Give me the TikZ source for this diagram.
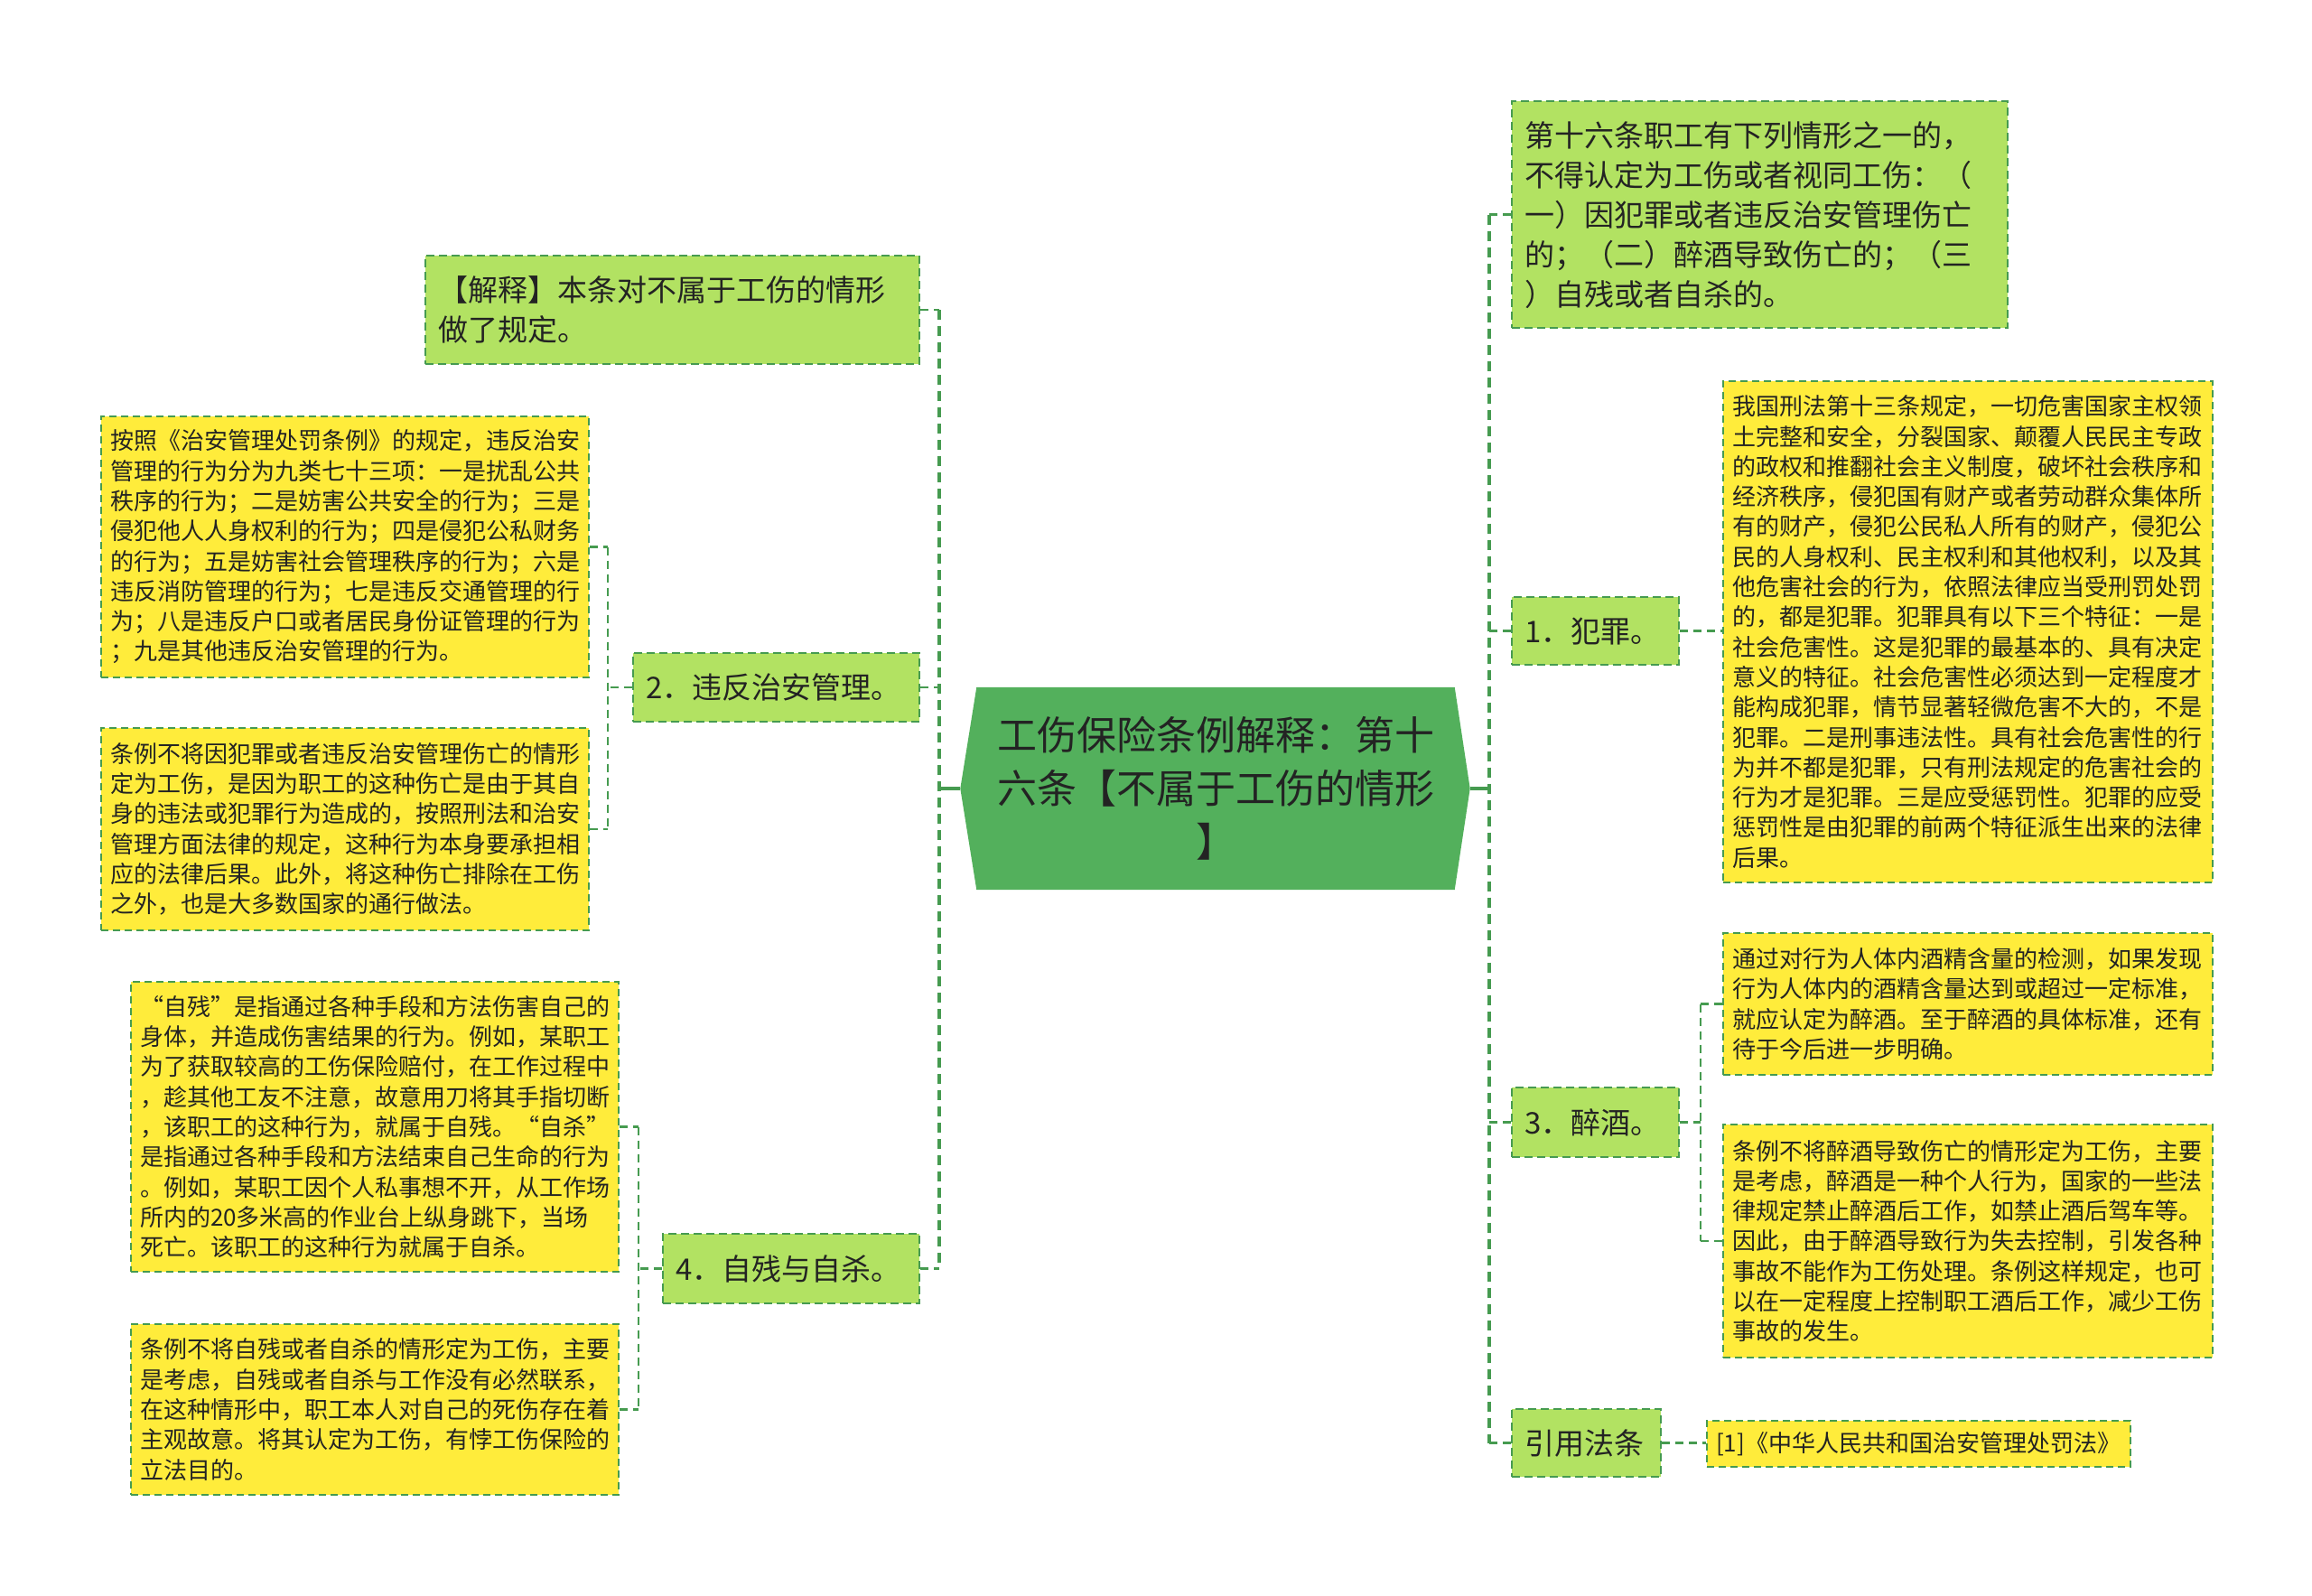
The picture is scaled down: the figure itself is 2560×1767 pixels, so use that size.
\documentclass[tikz,border=0pt]{standalone}
\usepackage{fontspec}
\newfontfamily\cjk{Noto Sans CJK SC}
\usetikzlibrary{backgrounds}

\definecolor{rootgreen}{RGB}{83,176,92}
\definecolor{topicgreen}{RGB}{178,226,98}
\definecolor{leafyellow}{RGB}{255,236,59}
\definecolor{linkgreen}{RGB}{70,155,80}
\definecolor{inkgray}{RGB}{35,35,35}

\begin{document}
\begin{tikzpicture}[x=1pt,y=-1pt,
        topic/.style={draw=linkgreen, fill=topicgreen, line width=2.4pt, dash pattern=on 9pt off 5pt,
            anchor=north west, align=left, inner xsep=14pt, inner ysep=6pt, text=inkgray,
            font=\cjk\fontsize{33}{44}\selectfont},
        leaf/.style={draw=linkgreen, fill=leafyellow, line width=2pt, dash pattern=on 8pt off 5pt,
            anchor=north west, align=left, inner xsep=10pt, inner ysep=6pt, text=inkgray,
            font=\cjk\fontsize{26}{33.3}\selectfont},
        link/.style={linkgreen, line width=2.5pt, dash pattern=on 9pt off 6pt},
        bus/.style={linkgreen, line width=4pt, dash pattern=on 11pt off 7pt},
        stem/.style={linkgreen, line width=4pt}]
            \useasboundingbox (0,0) rectangle (2560,1767);

            \node[align=center, text width=500pt, minimum width=529pt, minimum height=224pt, inner sep=0pt,
                text=inkgray, font=\cjk\fontsize{44}{59}\selectfont] (root) at (1346,873)
                {工伤保险条例解释：第十\\六条【不属于工伤的情形\\】};
            \begin{scope}[on background layer]
                \fill[rootgreen] (root.north west) -- (root.north east) -- ([xshift=17pt]root.east) coordinate (rootE)
                    -- (root.south east) -- (root.south west) -- ([xshift=-18pt]root.west) coordinate (rootW) -- cycle;
            \end{scope}

            \node[topic, text width=519pt, minimum height=120pt] (jieshi) at (470,282)
                {【解释】本条对不属于工伤的情形\\做了规定。};
            \node[topic, text width=289pt, minimum height=76pt] (zhian) at (700,722) {2．违反治安管理。};
            \node[topic, text width=256pt, minimum height=77pt] (zican) at (733,1365) {4．自残与自杀。};

            \node[leaf, text width=520pt, minimum height=289pt] (zhianA) at (111,460)
                {按照《治安管理处罚条例》的规定，违反治安\\管理的行为分为九类七十三项：一是扰乱公共\\秩序的行为；二是妨害公共安全的行为；三是\\侵犯他人人身权利的行为；四是侵犯公私财务\\的行为；五是妨害社会管理秩序的行为；六是\\违反消防管理的行为；七是违反交通管理的行\\为；八是违反户口或者居民身份证管理的行为\\；九是其他违反治安管理的行为。};
            \node[leaf, text width=520pt, minimum height=224pt] (zhianB) at (111,805)
                {条例不将因犯罪或者违反治安管理伤亡的情形\\定为工伤，是因为职工的这种伤亡是由于其自\\身的违法或犯罪行为造成的，按照刑法和治安\\管理方面法律的规定，这种行为本身要承担相\\应的法律后果。此外，将这种伤亡排除在工伤\\之外，也是大多数国家的通行做法。};
            \node[leaf, text width=520pt, minimum height=321pt] (zicanA) at (144,1086)
                {“自残”是指通过各种手段和方法伤害自己的\\身体，并造成伤害结果的行为。例如，某职工\\为了获取较高的工伤保险赔付，在工作过程中\\，趁其他工友不注意，故意用刀将其手指切断\\，该职工的这种行为，就属于自残。“自杀”\\是指通过各种手段和方法结束自己生命的行为\\。例如，某职工因个人私事想不开，从工作场\\所内的20多米高的作业台上纵身跳下，当场\\死亡。该职工的这种行为就属于自杀。};
            \node[leaf, text width=520pt, minimum height=189pt] (zicanB) at (144,1465)
                {条例不将自残或者自杀的情形定为工伤，主要\\是考虑，自残或者自杀与工作没有必然联系，\\在这种情形中，职工本人对自己的死伤存在着\\主观故意。将其认定为工伤，有悖工伤保险的\\立法目的。};

            \node[topic, text width=521pt, minimum height=251pt] (tiaowen) at (1673,111)
                {第十六条职工有下列情形之一的，\\不得认定为工伤或者视同工伤：（\\一）因犯罪或者违反治安管理伤亡\\的；（二）醉酒导致伤亡的；（三\\）自残或者自杀的。};
            \node[topic, text width=157pt, minimum height=75pt] (fanzui) at (1673,660) {1．犯罪。};
            \node[topic, text width=157pt, minimum height=77pt] (zuijiu) at (1673,1203) {3．醉酒。};
            \node[topic, text width=137pt, minimum height=75pt] (yinyong) at (1673,1559) {引用法条};

            \node[leaf, text width=522pt, minimum height=555pt] (fanzuiA) at (1907,421)
                {我国刑法第十三条规定，一切危害国家主权领\\土完整和安全，分裂国家、颠覆人民民主专政\\的政权和推翻社会主义制度，破坏社会秩序和\\经济秩序，侵犯国有财产或者劳动群众集体所\\有的财产，侵犯公民私人所有的财产，侵犯公\\民的人身权利、民主权利和其他权利，以及其\\他危害社会的行为，依照法律应当受刑罚处罚\\的，都是犯罪。犯罪具有以下三个特征：一是\\社会危害性。这是犯罪的最基本的、具有决定\\意义的特征。社会危害性必须达到一定程度才\\能构成犯罪，情节显著轻微危害不大的，不是\\犯罪。二是刑事违法性。具有社会危害性的行\\为并不都是犯罪，只有刑法规定的危害社会的\\行为才是犯罪。三是应受惩罚性。犯罪的应受\\惩罚性是由犯罪的前两个特征派生出来的法律\\后果。};
            \node[leaf, text width=522pt, minimum height=157pt] (zuijiuA) at (1907,1032)
                {通过对行为人体内酒精含量的检测，如果发现\\行为人体内的酒精含量达到或超过一定标准，\\就应认定为醉酒。至于醉酒的具体标准，还有\\待于今后进一步明确。};
            \node[leaf, text width=522pt, minimum height=258pt] (zuijiuB) at (1907,1244)
                {条例不将醉酒导致伤亡的情形定为工伤，主要\\是考虑，醉酒是一种个人行为，国家的一些法\\律规定禁止醉酒后工作，如禁止酒后驾车等。\\因此，由于醉酒导致行为失去控制，引发各种\\事故不能作为工伤处理。条例这样规定，也可\\以在一定程度上控制职工酒后工作，减少工伤\\事故的发生。};
            \node[leaf, text width=449pt, minimum height=51pt] (yinyongA) at (1889,1572)
                {[1]《中华人民共和国治安管理处罚法》};

            \coordinate (lbus) at (1040,873);
            \coordinate (rbus) at (1649,873);
            \coordinate (zhianbus) at (673,760);
            \coordinate (zicanbus) at (707,1403);
            \coordinate (zuijiubus) at (1883,1241);

            \draw[stem] (rootW) -- (rootW -| lbus);
            \draw[stem] (rootE) -- (rootE -| rbus);
            \draw[bus] (lbus |- jieshi.east) -- (lbus |- zican.east);
            \draw[bus] (rbus |- tiaowen.west) -- (rbus |- yinyong.west);

            \draw[link] (jieshi.east) -- (jieshi.east -| lbus);
            \draw[link] (zhian.east) -- (zhian.east -| lbus);
            \draw[link] (zican.east) -- (zican.east -| lbus);
            \draw[link] (tiaowen.west) -- (tiaowen.west -| rbus);
            \draw[link] (fanzui.west) -- (fanzui.west -| rbus);
            \draw[link] (zuijiu.west) -- (zuijiu.west -| rbus);
            \draw[link] (yinyong.west) -- (yinyong.west -| rbus);

            \draw[link] (zhian.west) -- (zhian.west -| zhianbus);
            \draw[link] (zhianbus |- zhianA.east) -- (zhianbus |- zhianB.east);
            \draw[link] (zhianA.east) -- (zhianA.east -| zhianbus);
            \draw[link] (zhianB.east) -- (zhianB.east -| zhianbus);

            \draw[link] (zican.west) -- (zican.west -| zicanbus);
            \draw[link] (zicanbus |- zicanA.east) -- (zicanbus |- zicanB.east);
            \draw[link] (zicanA.east) -- (zicanA.east -| zicanbus);
            \draw[link] (zicanB.east) -- (zicanB.east -| zicanbus);

            \draw[link] (fanzui.east) -- (fanzuiA.west |- fanzui.east);

            \draw[link] (zuijiu.east) -- (zuijiu.east -| zuijiubus);
            \draw[link] (zuijiubus |- zuijiuA.west) -- (zuijiubus |- zuijiuB.west);
            \draw[link] (zuijiuA.west) -- (zuijiuA.west -| zuijiubus);
            \draw[link] (zuijiuB.west) -- (zuijiuB.west -| zuijiubus);

            \draw[link] (yinyong.east) -- (yinyongA.west |- yinyong.east);
        \end{tikzpicture}
\end{document}
